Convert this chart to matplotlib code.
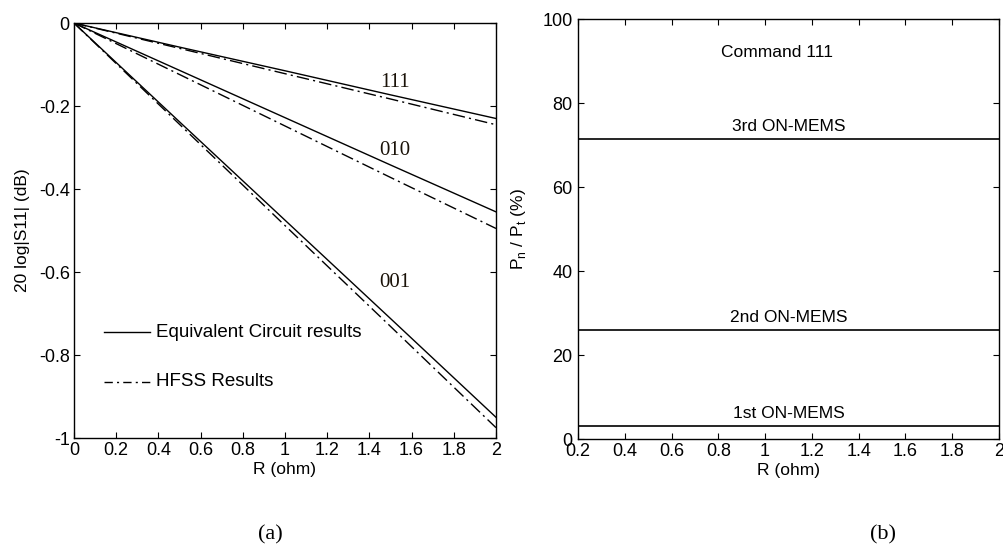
import numpy as np
import matplotlib.pyplot as plt

plt.rcParams['font.family'] = ['Liberation Sans', 'DejaVu Sans']

# panel (a): 20 log|S11| vs R
r_a = [0, 0.5, 1.0, 1.5, 2.0]
eq_111 = [0, -0.058, -0.115, -0.173, -0.23]
eq_010 = [0, -0.114, -0.228, -0.342, -0.455]
eq_001 = [0, -0.238, -0.475, -0.712, -0.95]
hfss_111 = [0, -0.061, -0.122, -0.183, -0.245]
hfss_010 = [0, -0.124, -0.248, -0.372, -0.495]
hfss_001 = [0, -0.244, -0.488, -0.731, -0.975]
curve_labels = ['111', '010', '001']
label_pos = [(1.52, -0.155), (1.52, -0.318), (1.52, -0.636)]

# panel (b): power share per ON-MEMS, command 111
r_b = [0.2, 2.0]
mems_names = ['1st ON-MEMS', '2nd ON-MEMS', '3rd ON-MEMS']
mems_share = [3.0, 26.0, 71.5]

fig = plt.figure(figsize=(10.04, 5.5), dpi=100)
ax1 = fig.add_axes([0.0737, 0.2036, 0.4203, 0.7545])
ax2 = fig.add_axes([0.5757, 0.2018, 0.4193, 0.7636])

dashdot = (0, (9, 3, 1.5, 3))
for eq, hf in [(eq_111, hfss_111), (eq_010, hfss_010), (eq_001, hfss_001)]:
    ax1.plot(r_a, eq, color='black', lw=1.0, ls='-')
    ax1.plot(r_a, hf, color='black', lw=1.0, ls=dashdot)
for txt, (x, y) in zip(curve_labels, label_pos):
    ax1.text(x, y, txt, fontsize=15, family=['Liberation Serif'], color='#1a1208',
             ha='center', va='baseline')

# legend drawn by hand, like the original
ax1.plot([0.14, 0.36], [-0.745, -0.745], color='black', lw=1.0)
ax1.plot([0.14, 0.36], [-0.865, -0.865], color='black', lw=1.0, ls=(0, (6, 3, 1.5, 3)))
ax1.text(0.39, -0.745, 'Equivalent Circuit results', fontsize=13.5, va='center')
ax1.text(0.39, -0.865, 'HFSS Results', fontsize=13.5, va='center')

ax1.set_xlim(0, 2)
ax1.set_ylim(-1, 0)
ax1.set_xticks(np.arange(0, 2.01, 0.2))
ax1.set_xticklabels(['0', '0.2', '0.4', '0.6', '0.8', '1', '1.2', '1.4', '1.6', '1.8', '2'])
ax1.set_yticks(np.arange(-1, 0.01, 0.2))
ax1.set_yticklabels(['-1', '-0.8', '-0.6', '-0.4', '-0.2', '0'])
ax1.set_xlabel('R (ohm)', fontsize=12.5, labelpad=2)
ax1.set_ylabel('20 log|S11| (dB)', fontsize=12.5, labelpad=6)

for name, val in zip(mems_names, mems_share):
    ax2.plot(r_b, [val, val], color='black', lw=1.2)
    ax2.text(1.1, val + 1.2, name, fontsize=12.5, ha='center', va='bottom')
ax2.text(1.05, 92, 'Command 111', fontsize=12.5, ha='center', va='center')

ax2.set_xlim(0.2, 2)
ax2.set_ylim(0, 100)
ax2.set_xticks(np.arange(0.2, 2.01, 0.2))
ax2.set_xticklabels(['0.2', '0.4', '0.6', '0.8', '1', '1.2', '1.4', '1.6', '1.8', '2'])
ax2.set_yticks(np.arange(0, 101, 20))
ax2.set_xlabel('R (ohm)', fontsize=12.5, labelpad=2)
ax2.set_ylabel(r'P$_\mathregular{n}$ / P$_\mathregular{t}$ (%)', fontsize=12.5, labelpad=10)

for ax in (ax1, ax2):
    ax.tick_params(direction='in', top=True, right=True, length=4, width=0.8,
                   labelsize=13, pad=3)
    for sp in ax.spines.values():
        sp.set_linewidth(1.0)
ax2.tick_params(axis='y', pad=4)

fig.text(0.269, 0.02, '(a)', fontsize=16, family=['Liberation Serif'], ha='center')
fig.text(0.879, 0.02, '(b)', fontsize=16, family=['Liberation Serif'], ha='center')

fig.savefig('out.png', dpi=100)
